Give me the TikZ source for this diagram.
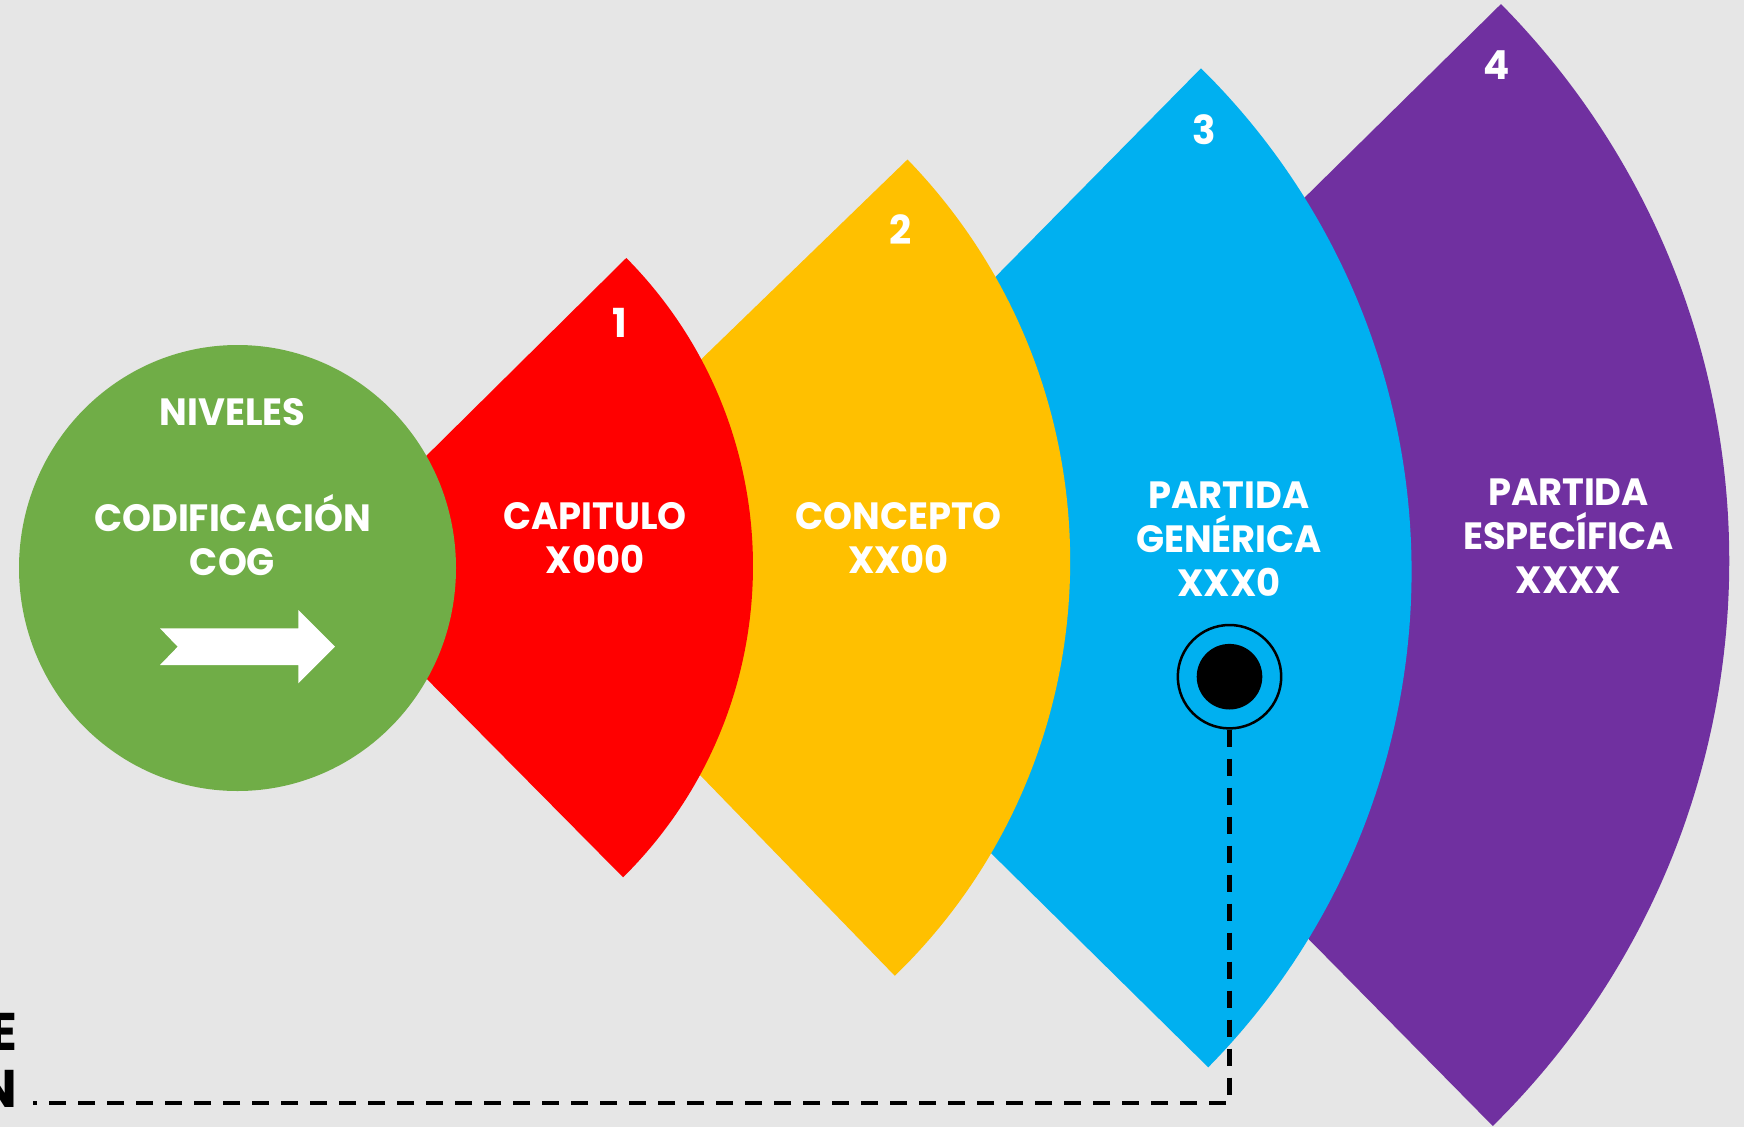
\documentclass[tikz,border=0pt]{standalone}
\usepackage{fontspec}
\usetikzlibrary{shapes.geometric}
\setmainfont{Poppins}[FakeStretch=0.97]
\definecolor{bgc}{HTML}{E6E6E6}
\definecolor{cgreen}{HTML}{70AD47}
\definecolor{cred}{HTML}{FF0000}
\definecolor{cyellow}{HTML}{FFC000}
\definecolor{cblue}{HTML}{00B0F0}
\definecolor{cpurple}{HTML}{7030A0}
\begin{document}
\begin{tikzpicture}[x=1pt,y=-1pt,
  lbl/.style={text=white, font=\bfseries\fontsize{38}{44}\selectfont, align=center, inner sep=0pt},
  numlbl/.style={text=white, font=\bfseries\fontsize{40}{44}\selectfont, inner sep=0pt},
  cutlbl/.style={text=black, font=\bfseries\fontsize{53}{57}\selectfont, inner sep=0pt, anchor=base east},
  dashline/.style={line width=4.3pt, dash pattern=on 17.5pt off 11.5pt}]
\useasboundingbox (0,0) rectangle (1744,1127);
\clip (0,0) rectangle (1744,1127);
\fill[bgc] (0,0) rectangle (1744,1127);
% sector centres
\coordinate (cp) at (935.9,560.9);
\coordinate (cb) at (705.2,571.4);
\coordinate (cy) at (492.6,561.3);
\coordinate (cr) at (315,566);
% sectors, back to front
\fill[cpurple] (cp) -- ++(-44.58:793.4) arc[start angle=-44.58, end angle=45.42, radius=793.4] -- cycle;
\fill[cblue] (cb) -- ++(-45.42:706.4) arc[start angle=-45.42, end angle=44.59, radius=706.4] -- cycle;
\fill[cyellow] (cy) -- ++(-44.08:577.6) arc[start angle=-44.08, end angle=45.86, radius=577.6] -- cycle;
\fill[cred] (cr) -- ++(-44.7:438) arc[start angle=-44.7, end angle=45.3, radius=438] -- cycle;
% green circle
\node[ellipse, fill=cgreen, minimum width=437pt, minimum height=446pt, inner sep=0pt] (hub) at (237.5,568) {};
\fill[white] (160,628.3) -- (298.3,628.3) -- (298.3,610) -- (335,646.7) -- (298.3,683.3) -- (298.3,665) -- (160,665) -- (177.7,646.7) -- cycle;
% labels
\node[lbl] (niveles) at (232.5,411.7) {NIVELES};
\node[lbl] (codif) at (232.5,535) {CODIFICACIÓN\\COG};
\node[lbl] (capit) at (595,537.7) {CAPITULO\\X000};
\node[lbl] (concep) at (898.5,538) {CONCEPTO\\XX00};
\node[lbl] (pgen) at (1229,539.3) {PARTIDA\\GENÉRICA\\XXX0};
\node[lbl] (pesp) at (1568.5,536) {PARTIDA\\ESPECÍFICA\\XXXX};
\node[numlbl] (n1) at (620,323) {1};
\node[numlbl] (n2) at (900.7,230) {2};
\node[numlbl] (n3) at (1204,130) {3};
\node[numlbl] (n4) at (1497,65) {4};
% target marker
\node[circle, draw=black, line width=2.5pt, minimum size=103.4pt, inner sep=0pt] (target) at (1229.5,676.7) {};
\node[circle, fill=black, minimum size=65.6pt, inner sep=0pt] (dot) at (target.center) {};
% cut-off text at left
\node[cutlbl] (tE) at (18,1050) {E};
\node[cutlbl] (tN) at (17,1107) {N};
\coordinate (corner) at (1229.5,1103.3);
\coordinate (lineend) at (33,1103.3);
\draw[dashline] (target.south) -- (corner) -- (lineend);
\end{tikzpicture}
\end{document}
